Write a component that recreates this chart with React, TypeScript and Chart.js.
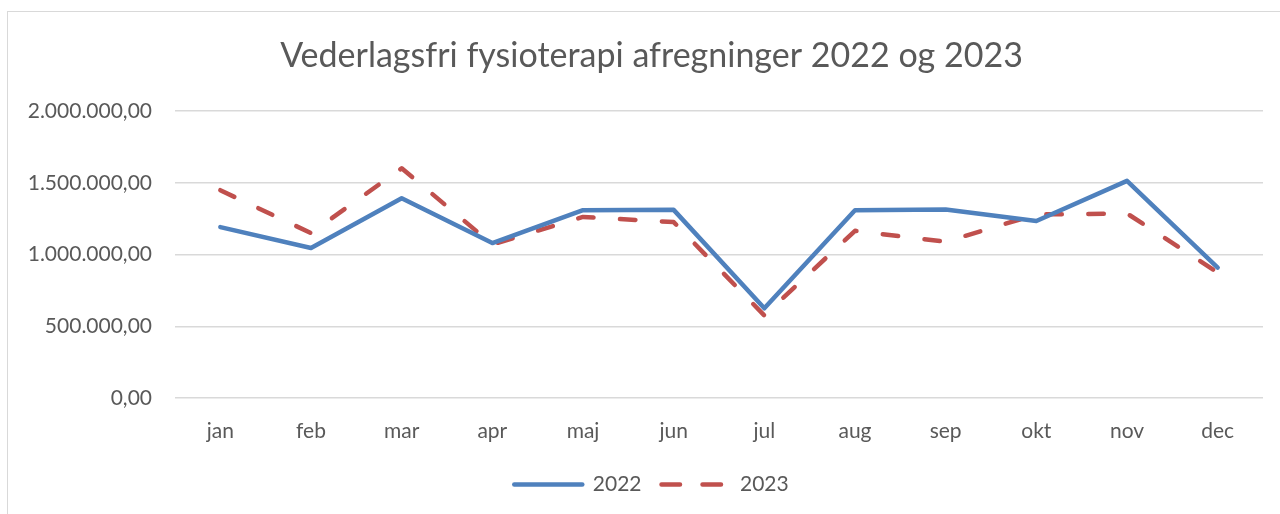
import React, { useEffect, useRef } from "react";
import { Chart, registerables } from "chart.js";

Chart.register(...registerables);

const months = ["jan", "feb", "mar", "apr", "maj", "jun", "jul", "aug", "sep", "okt", "nov", "dec"];
const values2022 = [1191000, 1045000, 1392000, 1080000, 1309000, 1311000, 625000, 1309000, 1314000, 1233000, 1513000, 908000];
const values2023 = [1448000, 1149000, 1601000, 1070000, 1262000, 1226000, 575000, 1165000, 1089000, 1279000, 1286000, 875000];
const yTicks = [0, 500000, 1000000, 1500000, 2000000];
const titleText = "Vederlagsfri fysioterapi afregninger 2022 og 2023";

const FONT = "Lato, 'Open Sans', sans-serif";
const TEXT = "#595959";

function fmt(v: number): string {
  const s = Math.round(v).toString().replace(/\B(?=(\d{3})+(?!\d))/g, ".");
  return s + ",00";
}

const shiftPlugin = {
  id: "shiftBlocks",
  afterLayout(chart: any) {
    if (chart.legend) {
      chart.legend.left += 20;
      chart.legend.right += 20;
    }
    if (chart.titleBlock) {
      chart.titleBlock.left += 20;
      chart.titleBlock.right += 20;
    }
  },
};

export default function App() {
  const ref = useRef<HTMLCanvasElement | null>(null);
  useEffect(() => {
    if (!ref.current) return;
    const chart = new Chart(ref.current, {
      type: "line",
      data: {
        labels: months,
        datasets: [
          {
            label: "2022",
            data: values2022,
            borderColor: "#4f81bd",
            backgroundColor: "#4f81bd",
            borderWidth: 4.5,
            borderCapStyle: "round",
            borderJoinStyle: "round",
            pointRadius: 0,
            tension: 0,
          },
          {
            label: "2023",
            data: values2023,
            borderColor: "#c0504d",
            backgroundColor: "#c0504d",
            borderWidth: 4.5,
            borderDash: [15.5, 26.5],
            borderCapStyle: "round",
            borderJoinStyle: "round",
            pointRadius: 0,
            tension: 0,
          },
        ],
      },
      options: {
        animation: false,
        responsive: false,
        maintainAspectRatio: false,
        layout: { padding: { left: 0, right: 17, top: 0, bottom: 9 } },
        plugins: {
          tooltip: { enabled: false },
          title: {
            display: true,
            text: titleText,
            color: TEXT,
            font: { family: FONT, size: 34, weight: "normal", lineHeight: 1.2 },
            padding: { top: 35.6, bottom: 34.6 },
          },
          legend: {
            position: "bottom",
            labels: {
              usePointStyle: true,
              pointStyle: "line",
              pointStyleWidth: 68,
              boxHeight: 21,
              padding: 20,
              color: TEXT,
              font: { family: FONT, size: 21 },
              generateLabels: (c: any) => {
                const items = Chart.defaults.plugins.legend.labels.generateLabels(c);
                return items.map((it: any, i: number) => ({
                  ...it,
                  lineWidth: 4.5,
                  lineCap: "round",
                  strokeStyle: i === 0 ? "#4f81bd" : "#c0504d",
                  fillStyle: i === 0 ? "#4f81bd" : "#c0504d",
                  lineDash: i === 0 ? [] : [18.5, 22.5],
                }));
              },
            },
          },
        },
        scales: {
          x: {
            grid: { display: false, drawTicks: false },
            border: { display: false },
            offset: true,
            ticks: { color: TEXT, font: { family: FONT, size: 21 }, padding: 21, maxRotation: 0 },
            afterFit: (s: any) => {
              s.height = 56;
            },
          },
          y: {
            min: 0,
            max: 2000000,
            grid: { color: "#d9d9d9", lineWidth: 1.5, drawTicks: false },
            border: { display: false },
            afterBuildTicks: (s: any) => {
              s.ticks = yTicks.map((v) => ({ value: v }));
            },
            afterFit: (s: any) => {
              s.width = 175;
            },
            ticks: {
              color: TEXT,
              font: { family: FONT, size: 21 },
              padding: 23,
              callback: (v: any) => fmt(Number(v)),
            },
          },
        },
      },
      plugins: [shiftPlugin],
    });
    return () => chart.destroy();
  }, []);
  return (
    <div style={{ position: "absolute", left: 0, top: 0, width: 1280, height: 514, overflow: "hidden", background: "#fff" }}>
      <div
        style={{
          position: "absolute",
          left: 7,
          top: 11,
          width: 1300,
          height: 600,
          border: "1px solid #d9d9d9",
          boxSizing: "border-box",
        }}
      />
      <canvas ref={ref} width={1280} height={514} style={{ position: "absolute", left: 0, top: 0, width: 1280, height: 514 }} />
    </div>
  );
}
